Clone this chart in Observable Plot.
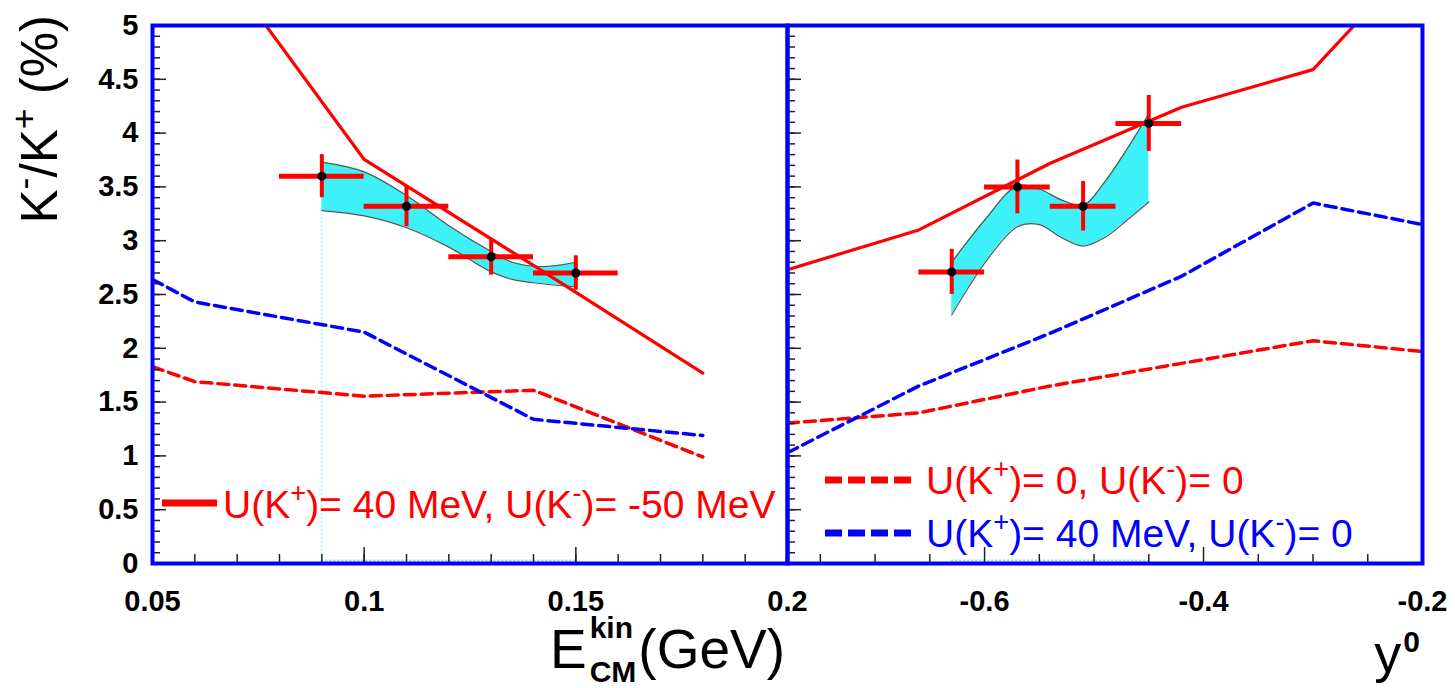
<!DOCTYPE html>
<html><head><meta charset="utf-8">
<script src="https://cdn.jsdelivr.net/npm/d3@7"></script>
<script src="https://cdn.jsdelivr.net/npm/@observablehq/plot@0.6"></script>
<style>
html,body{margin:0;padding:0;background:#fff;}
#chart{position:relative;width:1455px;height:688px;overflow:hidden;font-family:"Liberation Sans",Arial,sans-serif;}
#chart svg{position:absolute;top:0;}
</style></head><body><div id="chart"></div>
<script>
// ---------- data: left panel (E_CM^kin) ----------
const eBins   = [0.09, 0.11, 0.13, 0.15];
const eRatio  = [3.60, 3.32, 2.85, 2.70];
const eErrX   = [0.01, 0.01, 0.01, 0.01];
const eErrY   = [0.20, 0.19, 0.17, 0.16];
const eBandX  = [0.09, 0.10, 0.11, 0.12, 0.13, 0.135, 0.142, 0.15];
const eBandHi = [3.73, 3.64, 3.42, 3.14, 2.90, 2.80, 2.76, 2.80];
const eBandLo = [3.28, 3.23, 3.12, 2.94, 2.71, 2.64, 2.60, 2.57];
const eModelX      = [0.05, 0.06, 0.10, 0.14, 0.18];
const eModelSolid  = [null, 5.90, 3.755, 2.77, 1.77];   // U(K+)=40, U(K-)=-50
const eModelRed    = [1.83, 1.69, 1.555, 1.61, 0.99];   // U(K+)=0, U(K-)=0
const eModelBlue   = [2.64, 2.43, 2.15, 1.34, 1.19];    // U(K+)=40, U(K-)=0

// ---------- data: right panel (y0) ----------
const yBins   = [-0.63, -0.57, -0.51, -0.45];
const yRatio  = [2.71, 3.50, 3.32, 4.09];
const yErrX   = [0.03, 0.03, 0.03, 0.03];
const yErrY   = [0.21, 0.25, 0.23, 0.26];
const yBandX  = [-0.63, -0.615, -0.60, -0.57, -0.55, -0.53, -0.51, -0.49, -0.47, -0.45];
const yBandHi = [2.80, 3.00, 3.19, 3.51, 3.48, 3.38, 3.33, 3.55, 3.85, 4.18];
const yBandLo = [2.31, 2.56, 2.79, 3.13, 3.15, 3.03, 2.95, 3.03, 3.19, 3.36];
const yModelX     = [-0.78, -0.66, -0.54, -0.42, -0.30, -0.18];
const yModelSolid = [2.73, 3.10, 3.72, 4.24, 4.59, 5.90];
const yModelRed   = [1.305, 1.40, 1.65, 1.86, 2.07, 1.95];
const yModelBlue  = [1.03, 1.65, 2.14, 2.67, 3.35, 3.11];

// ---------- axes ----------
const ratioDomain = [0, 5];
const ratioMajor  = [0, 0.5, 1, 1.5, 2, 2.5, 3, 3.5, 4, 4.5, 5];
const ratioMinor  = d3.range(0, 51).map(i => i / 10);
const eDomain = [0.05, 0.2];
const eMajor  = [0.05, 0.1, 0.15, 0.2];
const eMinor  = d3.range(5, 21).map(i => i / 100);
const yDomain = [-0.78, -0.2];
const yMajor  = [-0.6, -0.4, -0.2];
const yMinor  = [-0.75, -0.7, -0.65, -0.55, -0.5, -0.45, -0.35, -0.3, -0.25];

// ---------- legend / titles ----------
const legendSolid = "U(K^{+})= 40 MeV, U(K^{-})= -50 MeV";
const legendRed   = "U(K^{+})= 0, U(K^{-})= 0";
const legendBlue  = "U(K^{+})= 40 MeV, U(K^{-})= 0";
const yTitle = "K^{-}/K^{+} (%)";

const RED = "#ff0000", BLUE = "#0000ff";
const FRAME_W = 635, FRAME_H = 538;

function rows(xs, ys) { return xs.map((x, i) => ({x, y: ys[i]})).filter(d => d.y != null); }
function pts(xs, ys, ex, ey) { return xs.map((x, i) => ({x, y: ys[i], ex: ex[i], ey: ey[i]})); }
function band(xs, lo, hi) { return xs.map((x, i) => ({x, lo: lo[i], hi: hi[i]})); }

// inward tick marks: a full-width tick trimmed by an inset down to the wanted length
function ticksY(values, len) {
  return Plot.tickY(values, {y: d => d, insetRight: FRAME_W - len, stroke: "#222", strokeWidth: 1.5});
}
function ticksX(values, len) {
  return Plot.tickX(values, {x: d => d, insetTop: FRAME_H - len, stroke: "#222", strokeWidth: 1.5});
}

function panel(o) {
  const bd = band(o.bandX, o.bandLo, o.bandHi);
  const p = pts(o.bins, o.ratio, o.errX, o.errY);
  const marks = [
    ...(o.extra || []),
    Plot.areaY(bd, {x: "x", y1: "lo", y2: "hi", fill: "#3ef0f8", curve: "catmull-rom"}),
    Plot.line(bd, {x: "x", y: "hi", stroke: "#555", strokeWidth: 1.2, curve: "catmull-rom"}),
    Plot.line(bd, {x: "x", y: "lo", stroke: "#555", strokeWidth: 1.2, curve: "catmull-rom"}),
    Plot.line(rows(o.modelX, o.modelRed),  {x: "x", y: "y", stroke: RED,  strokeWidth: 3.5, strokeDasharray: "11,6", clip: true}),
    Plot.line(rows(o.modelX, o.modelBlue), {x: "x", y: "y", stroke: BLUE, strokeWidth: 3.5, strokeDasharray: "11,6", clip: true}),
    Plot.line(rows(o.modelX, o.modelSolid),{x: "x", y: "y", stroke: RED,  strokeWidth: 3.2, clip: true}),
    Plot.ruleY(p, {y: "y", x1: d => d.x - d.ex, x2: d => d.x + d.ex, stroke: RED, strokeWidth: 5}),
    Plot.ruleX(p, {x: "x", y1: d => d.y - d.ey, y2: d => d.y + d.ey, stroke: RED, strokeWidth: 4}),
    Plot.dot(p, {x: "x", y: "y", r: 4.5, fill: "black"}),
    // ticks inside the frame
    ticksY(ratioMinor, 8),
    ticksY(ratioMajor, 14),
    ticksX(o.minor, 9),
    ticksX(o.major, 16),
    Plot.frame({stroke: BLUE, strokeWidth: 4}),
    Plot.axisX(o.major, {anchor: "bottom", tickSize: 0, tickPadding: 27, tickFormat: d => String(d), label: null,
      fontSize: 29, fontWeight: "bold", fill: "black"})
  ];
  if (o.yLabels) marks.push(Plot.axisY(ratioMajor, {anchor: "left", tickSize: 0, tickPadding: 14, tickFormat: d => String(d),
      label: null, fontSize: 29, fontWeight: "bold", fill: "black"}));
  return Plot.plot({
    width: o.width, height: 640,
    marginLeft: o.ml, marginRight: o.mr, marginTop: 25, marginBottom: 77,
    x: {domain: o.domain, axis: null}, y: {domain: ratioDomain, axis: null},
    style: {background: "transparent", overflow: "visible", fontFamily: "Liberation Sans, Arial, sans-serif"},
    marks
  });
}

const left = panel({
  width: 810, ml: 152, mr: 23, domain: eDomain, major: eMajor, minor: eMinor, yLabels: true,
  bins: eBins, ratio: eRatio, errX: eErrX, errY: eErrY,
  bandX: eBandX, bandLo: eBandLo, bandHi: eBandHi,
  modelX: eModelX, modelSolid: eModelSolid, modelRed: eModelRed, modelBlue: eModelBlue,
  extra: [
    Plot.ruleX([eBandX[0]], {y1: ratioDomain[0], y2: eBandLo[0], stroke: "#7ef", strokeWidth: 1, strokeDasharray: "2,2"}),
    Plot.ruleY([ratioDomain[0]], {x1: eBandX[0], x2: eBandX[eBandX.length - 1], dy: -3, stroke: "#9cf", strokeWidth: 2, strokeDasharray: "2,2"})
  ]
});
left.style.left = "0px";
const right = panel({
  width: 728, ml: 60, mr: 33, domain: yDomain, major: yMajor, minor: yMinor, yLabels: false,
  bins: yBins, ratio: yRatio, errX: yErrX, errY: yErrY,
  bandX: yBandX, bandLo: yBandLo, bandHi: yBandHi,
  modelX: yModelX, modelSolid: yModelSolid, modelRed: yModelRed, modelBlue: yModelBlue,
  extra: [
    Plot.ruleY([ratioDomain[0]], {x1: yBandX[0], x2: yBandX[yBandX.length - 1], dy: -3, stroke: "#9cf", strokeWidth: 2, strokeDasharray: "2,2"})
  ]
});
right.style.left = "727px";
const chart = document.getElementById("chart");
chart.appendChild(right);
chart.appendChild(left);

// ---------- overlay: legends and axis titles ----------
const ov = d3.select(chart).append("svg").attr("width", 1455).attr("height", 688)
  .style("left", "0px").style("font-family", "Liberation Sans, Arial, sans-serif").style("white-space", "pre");

function rich(parent, str, {x = 0, y = 0, size, fill = "black", anchor = "start", weight = "normal", transform = null, supScale = 0.7, supRaise = 0.42}) {
  const t = parent.append("text").attr("x", x).attr("y", y).attr("font-size", size).attr("fill", fill)
    .attr("text-anchor", anchor).attr("font-weight", weight);
  if (transform) t.attr("transform", transform);
  let off = 0;
  for (const part of str.split(/(\^\{[^}]*\})/)) {
    if (!part) continue;
    const m = /^\^\{(.*)\}$/.exec(part);
    const target = m ? -supRaise * size : 0;
    t.append("tspan").attr("dy", target - off).attr("font-size", m ? size * supScale : size).text(m ? m[1] : part);
    off = target;
  }
  return t;
}

// legend, left panel
ov.append("line").attr("x1", 162).attr("x2", 217).attr("y1", 503).attr("y2", 503).attr("stroke", RED).attr("stroke-width", 7);
rich(ov, legendSolid, {x: 223, y: 518, size: 39, fill: RED});
// legend, right panel
ov.append("line").attr("x1", 825).attr("x2", 911).attr("y1", 480).attr("y2", 480).attr("stroke", RED).attr("stroke-width", 7).attr("stroke-dasharray", "17,6");
rich(ov, legendRed, {x: 926, y: 494, size: 39, fill: RED});
ov.append("line").attr("x1", 825).attr("x2", 911).attr("y1", 533).attr("y2", 533).attr("stroke", BLUE).attr("stroke-width", 7).attr("stroke-dasharray", "17,6");
rich(ov, legendBlue, {x: 926, y: 547, size: 39, fill: BLUE});

// y title
rich(ov, yTitle, {size: 51, anchor: "end", transform: "translate(57,15) rotate(-90)"});

// x title, left: E^{kin}_{CM} (GeV)
{
  const g = ov.append("g");
  const tE = g.append("text").attr("x", 0).attr("y", 0).attr("font-size", 55).text("E");
  const wE = tE.node().getComputedTextLength();
  const tK = g.append("text").attr("x", wE + 3).attr("y", -30).attr("font-size", 30).attr("font-weight", "bold").text("kin");
  const tC = g.append("text").attr("x", wE + 3).attr("y", 14).attr("font-size", 30).attr("font-weight", "bold").text("CM");
  const wS = Math.max(tK.node().getComputedTextLength(), tC.node().getComputedTextLength());
  const tG = g.append("text").attr("x", wE + wS + 5).attr("y", 0).attr("font-size", 55).text("(GeV)");
  const total = wE + wS + 5 + tG.node().getComputedTextLength();
  g.attr("transform", `translate(${785 - total},668)`);
}
// x title, right: y^0
{
  const g = ov.append("g");
  const ty = g.append("text").attr("x", 0).attr("y", 0).attr("font-size", 54).text("y");
  const wy = ty.node().getComputedTextLength();
  const t0 = g.append("text").attr("x", wy + 2).attr("y", -20).attr("font-size", 30).attr("font-weight", "bold").text("0");
  const total = wy + 2 + t0.node().getComputedTextLength();
  g.attr("transform", `translate(${1420 - total},672)`);
}
</script></body></html>
